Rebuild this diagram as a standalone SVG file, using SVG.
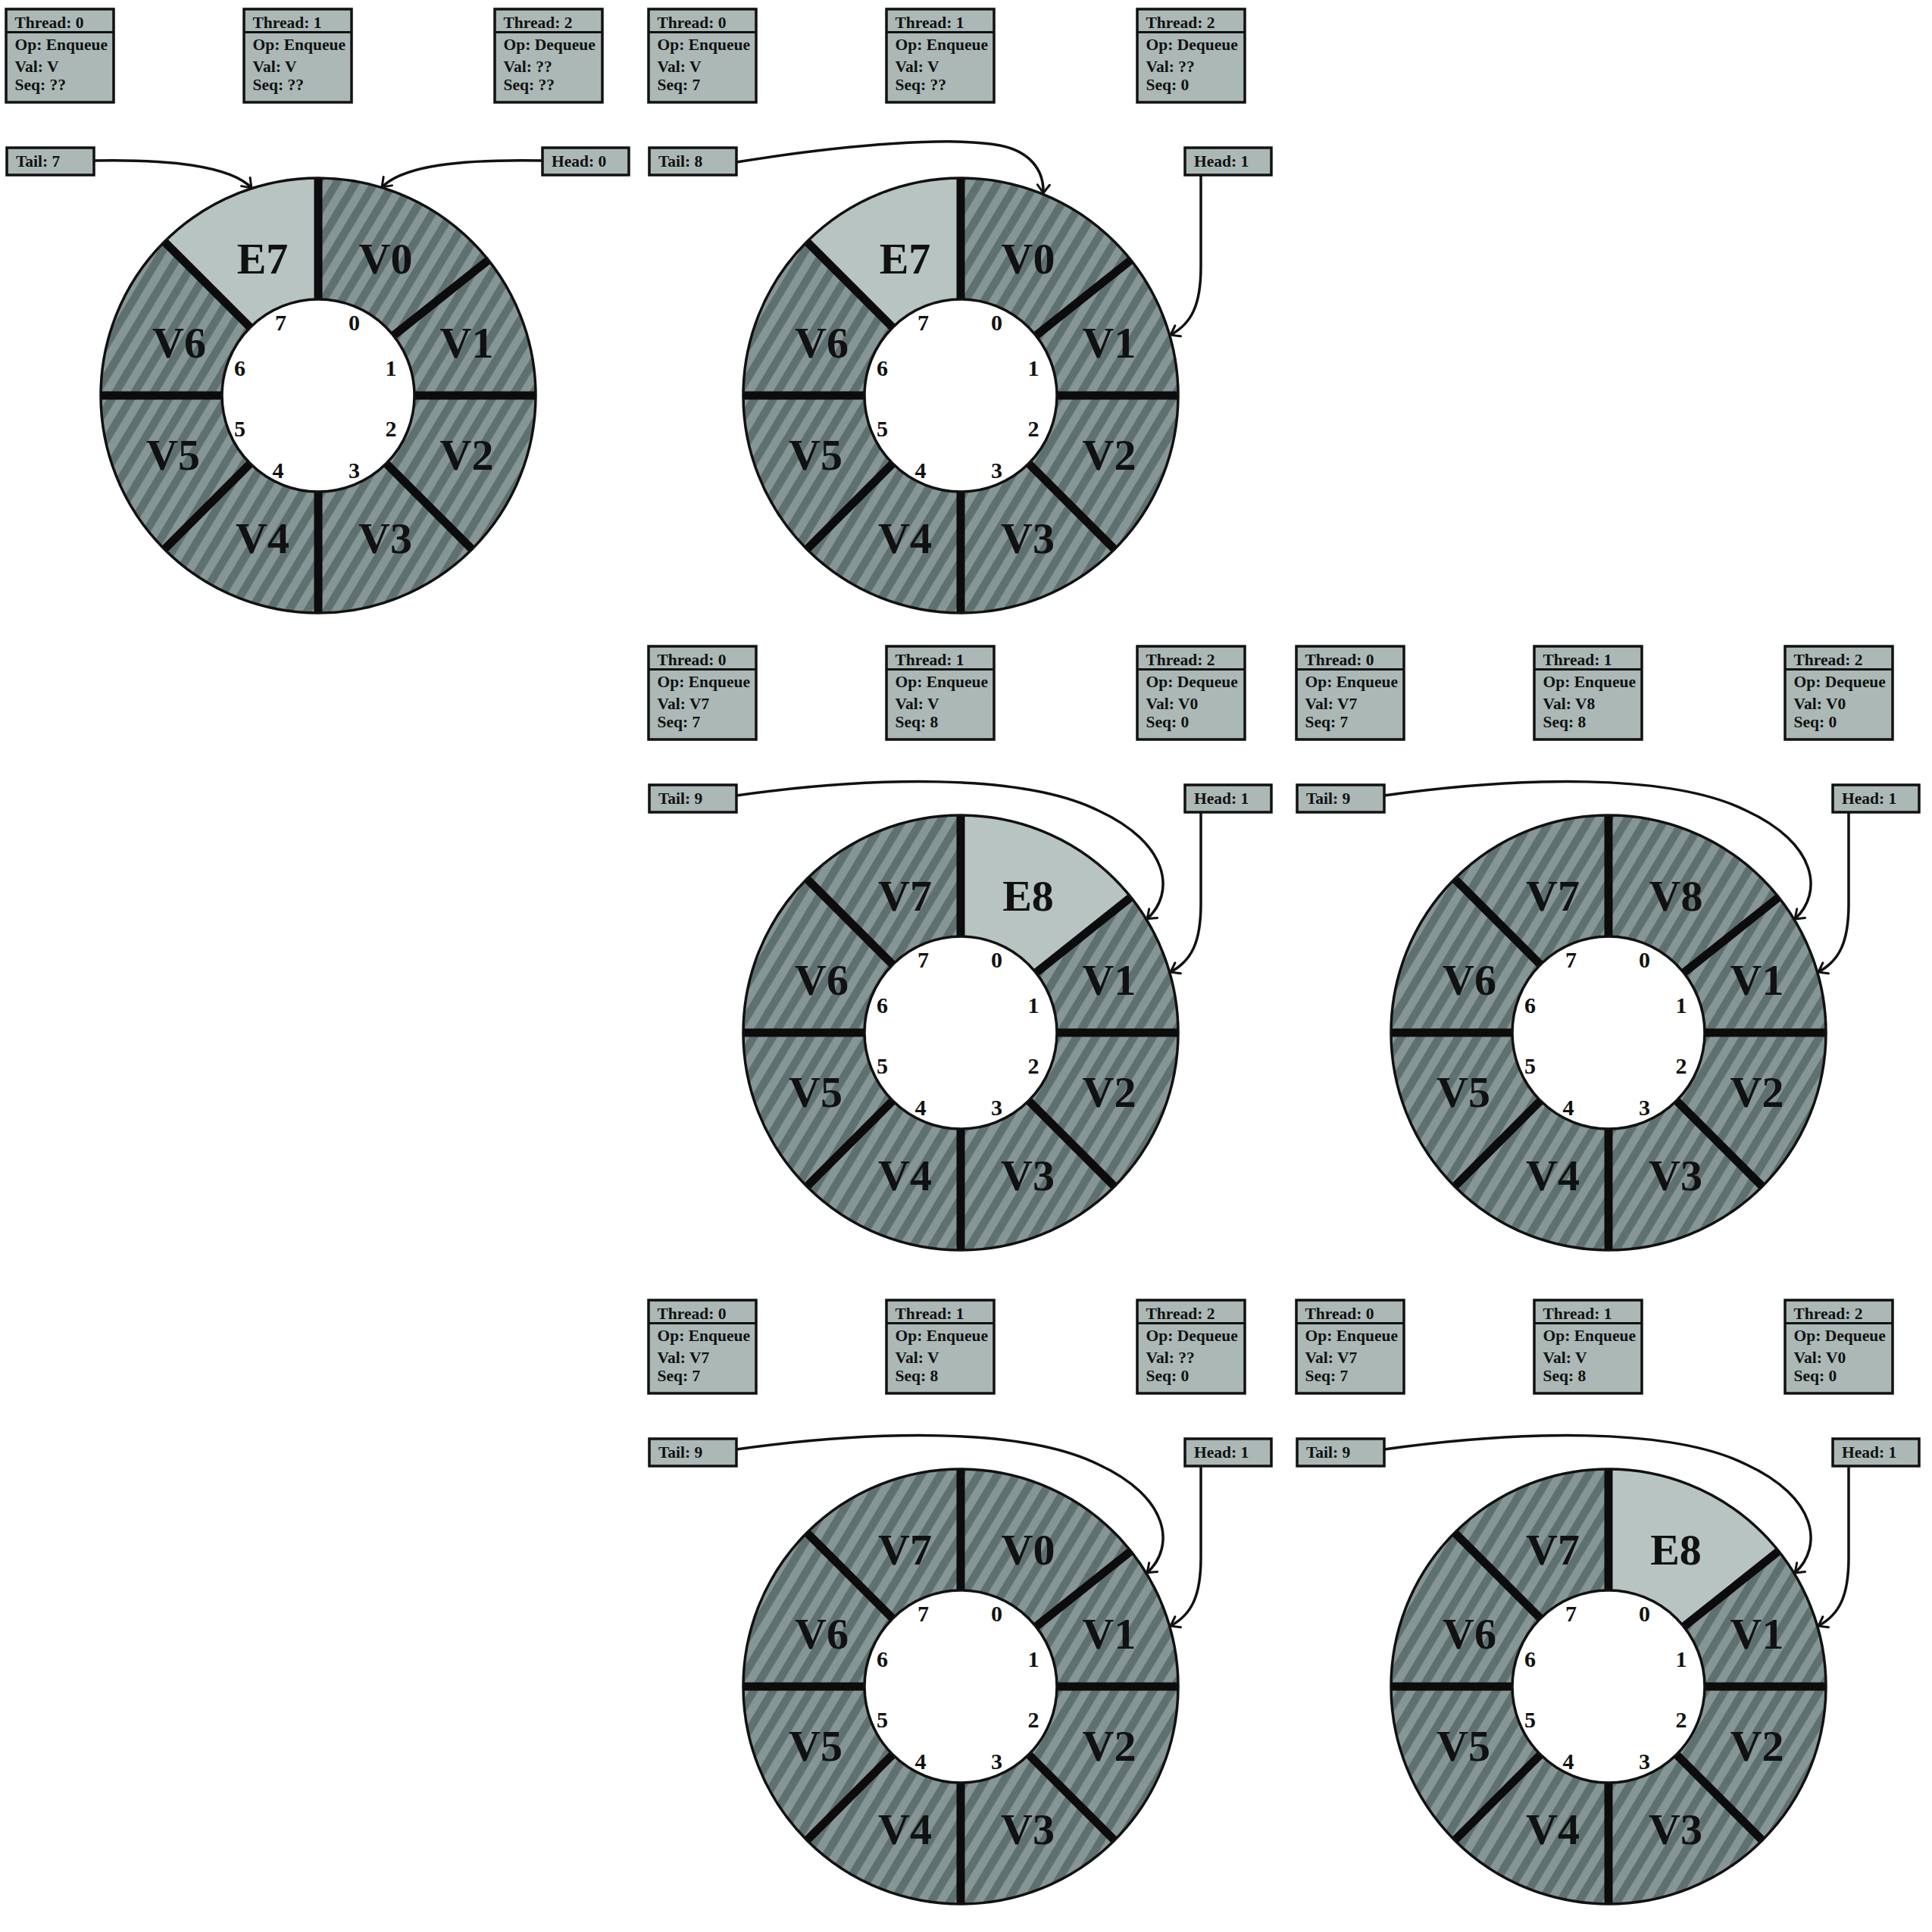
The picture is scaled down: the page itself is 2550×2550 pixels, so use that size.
<svg xmlns="http://www.w3.org/2000/svg" width="2550" height="2550" viewBox="0 0 2550 2550">
<style>
.box{fill:#abb8b6;stroke:#111;stroke-width:3.5}
.hdr{stroke:#111;stroke-width:3}
.t{font-family:"Liberation Serif","DejaVu Serif",serif;font-weight:bold;font-size:21.5px;fill:#111}
.lbl{font-family:"Liberation Serif","DejaVu Serif",serif;font-weight:bold;font-size:58px;text-anchor:middle;fill:#111}
.idx{font-family:"Liberation Serif","DejaVu Serif",serif;font-weight:bold;font-size:30px;text-anchor:middle;fill:#111}
.ring{fill:url(#stripes)}
.empty{fill:#b7c4c2}
.sep{fill:none;stroke:#0c0c0c;stroke-width:11}
.outer{fill:none;stroke:#111;stroke-width:3.5}
.inner{fill:#fff;stroke:#111;stroke-width:3.5}
.conn{fill:none;stroke:#111;stroke-width:3.5;marker-end:url(#arr)}
</style>
<defs>
<pattern id="stripes" patternUnits="userSpaceOnUse" width="21.5" height="21.5" patternTransform="rotate(31)">
<rect width="21.5" height="21.5" fill="#869595"/>
<rect width="10.5" height="21.5" fill="#5f7070"/>
</pattern>
<marker id="arr" viewBox="-15 -15 30 30" refX="0" refY="0" markerWidth="30" markerHeight="30" orient="auto" markerUnits="userSpaceOnUse">
<path d="M -11 -8 Q -3 -2 0 0 Q -3 2 -11 8" fill="none" stroke="#111" stroke-width="3" stroke-linecap="round"/>
</marker>
</defs>
<rect width="2550" height="2550" fill="#fff"/>

<!-- Panel 1 -->
<g id="panel1" transform="translate(420,522)">
<g id="p1-thread0"><rect class="box" x="-412" y="-510" width="142" height="123"/><line class="hdr" x1="-412" y1="-479.5" x2="-270" y2="-479.5"/><text class="t" x="-400.5" y="-485.5">Thread: 0</text><text class="t" x="-400.5" y="-456">Op: Enqueue</text><text class="t" x="-400.5" y="-427.5">Val: V</text><text class="t" x="-400.5" y="-403.5">Seq: ??</text></g>
<g id="p1-thread1"><rect class="box" x="-98" y="-510" width="142" height="123"/><line class="hdr" x1="-98" y1="-479.5" x2="44" y2="-479.5"/><text class="t" x="-86.5" y="-485.5">Thread: 1</text><text class="t" x="-86.5" y="-456">Op: Enqueue</text><text class="t" x="-86.5" y="-427.5">Val: V</text><text class="t" x="-86.5" y="-403.5">Seq: ??</text></g>
<g id="p1-thread2"><rect class="box" x="233" y="-510" width="142" height="123"/><line class="hdr" x1="233" y1="-479.5" x2="375" y2="-479.5"/><text class="t" x="244.5" y="-485.5">Thread: 2</text><text class="t" x="244.5" y="-456">Op: Dequeue</text><text class="t" x="244.5" y="-427.5">Val: ??</text><text class="t" x="244.5" y="-403.5">Seq: ??</text></g>
<g id="p1-tail"><rect class="box" x="-411" y="-327" width="115" height="36"/><text class="t" x="-399" y="-302">Tail: 7</text></g>
<g id="p1-head"><rect class="box" x="296" y="-327" width="114" height="36"/><text class="t" x="308" y="-302">Head: 0</text></g>
<g id="p1-ring">
<circle class="ring" r="287"/>
<path class="empty" d="M 0 -287 A 287 287 0 0 0 -202.9 -202.9 L 0 0 Z"/>
<path class="sep" d="M 0 -127 V -287 M 99.4 -79.1 L 224.6 -178.7 M 127 0 H 287 M 89.8 89.8 L 202.9 202.9 M 0 127 V 287 M -89.8 89.8 L -202.9 202.9 M -127 0 H -287 M -89.8 -89.8 L -202.9 -202.9"/>
<circle class="outer" r="287"/><circle class="inner" r="127"/>
<text class="lbl" x="89" y="-161.5">V0</text><text class="lbl" x="196" y="-50">V1</text><text class="lbl" x="196" y="97.5">V2</text><text class="lbl" x="88.5" y="207.5">V3</text><text class="lbl" x="-73.5" y="207.5">V4</text><text class="lbl" x="-191.5" y="97.5">V5</text><text class="lbl" x="-183.5" y="-50">V6</text><text class="lbl" x="-73.5" y="-161.5">E7</text>
<text class="idx" x="47.5" y="-86.5">0</text><text class="idx" x="96" y="-26">1</text><text class="idx" x="96" y="54">2</text><text class="idx" x="47.5" y="108.5">3</text><text class="idx" x="-53" y="108.5">4</text><text class="idx" x="-103.5" y="54">5</text><text class="idx" x="-103.5" y="-26">6</text><text class="idx" x="-49.5" y="-86.5">7</text>
</g>
<g id="p1-connectors"><path class="conn" d="M -296 -310 C -190 -312 -115 -302 -88 -274"/><path class="conn" d="M 296 -310 C 185 -312 112 -303 84 -275"/></g>
</g>

<!-- Panel 2 -->
<g id="panel2" transform="translate(1268,522)">
<g id="p2-thread0"><rect class="box" x="-412" y="-510" width="142" height="123"/><line class="hdr" x1="-412" y1="-479.5" x2="-270" y2="-479.5"/><text class="t" x="-400.5" y="-485.5">Thread: 0</text><text class="t" x="-400.5" y="-456">Op: Enqueue</text><text class="t" x="-400.5" y="-427.5">Val: V</text><text class="t" x="-400.5" y="-403.5">Seq: 7</text></g>
<g id="p2-thread1"><rect class="box" x="-98" y="-510" width="142" height="123"/><line class="hdr" x1="-98" y1="-479.5" x2="44" y2="-479.5"/><text class="t" x="-86.5" y="-485.5">Thread: 1</text><text class="t" x="-86.5" y="-456">Op: Enqueue</text><text class="t" x="-86.5" y="-427.5">Val: V</text><text class="t" x="-86.5" y="-403.5">Seq: ??</text></g>
<g id="p2-thread2"><rect class="box" x="233" y="-510" width="142" height="123"/><line class="hdr" x1="233" y1="-479.5" x2="375" y2="-479.5"/><text class="t" x="244.5" y="-485.5">Thread: 2</text><text class="t" x="244.5" y="-456">Op: Dequeue</text><text class="t" x="244.5" y="-427.5">Val: ??</text><text class="t" x="244.5" y="-403.5">Seq: 0</text></g>
<g id="p2-tail"><rect class="box" x="-411" y="-327" width="115" height="36"/><text class="t" x="-399" y="-302">Tail: 8</text></g>
<g id="p2-head"><rect class="box" x="296" y="-327" width="114" height="36"/><text class="t" x="308" y="-302">Head: 1</text></g>
<g id="p2-ring">
<circle class="ring" r="287"/>
<path class="empty" d="M 0 -287 A 287 287 0 0 0 -202.9 -202.9 L 0 0 Z"/>
<path class="sep" d="M 0 -127 V -287 M 99.4 -79.1 L 224.6 -178.7 M 127 0 H 287 M 89.8 89.8 L 202.9 202.9 M 0 127 V 287 M -89.8 89.8 L -202.9 202.9 M -127 0 H -287 M -89.8 -89.8 L -202.9 -202.9"/>
<circle class="outer" r="287"/><circle class="inner" r="127"/>
<text class="lbl" x="89" y="-161.5">V0</text><text class="lbl" x="196" y="-50">V1</text><text class="lbl" x="196" y="97.5">V2</text><text class="lbl" x="88.5" y="207.5">V3</text><text class="lbl" x="-73.5" y="207.5">V4</text><text class="lbl" x="-191.5" y="97.5">V5</text><text class="lbl" x="-183.5" y="-50">V6</text><text class="lbl" x="-73.5" y="-161.5">E7</text>
<text class="idx" x="47.5" y="-86.5">0</text><text class="idx" x="96" y="-26">1</text><text class="idx" x="96" y="54">2</text><text class="idx" x="47.5" y="108.5">3</text><text class="idx" x="-53" y="108.5">4</text><text class="idx" x="-103.5" y="54">5</text><text class="idx" x="-103.5" y="-26">6</text><text class="idx" x="-49.5" y="-86.5">7</text>
</g>
<g id="p2-connectors"><path class="conn" d="M -296 -308 C -148 -332 -8 -342 52 -330 C 92 -322 110 -297 109 -267"/><path class="conn" d="M 317 -291 L 317 -170 C 317 -120 305 -95 277 -80"/></g>
</g>

<!-- Panel 3 -->
<g id="panel3" transform="translate(1268,1363)">
<g id="p3-thread0"><rect class="box" x="-412" y="-510" width="142" height="123"/><line class="hdr" x1="-412" y1="-479.5" x2="-270" y2="-479.5"/><text class="t" x="-400.5" y="-485.5">Thread: 0</text><text class="t" x="-400.5" y="-456">Op: Enqueue</text><text class="t" x="-400.5" y="-427.5">Val: V7</text><text class="t" x="-400.5" y="-403.5">Seq: 7</text></g>
<g id="p3-thread1"><rect class="box" x="-98" y="-510" width="142" height="123"/><line class="hdr" x1="-98" y1="-479.5" x2="44" y2="-479.5"/><text class="t" x="-86.5" y="-485.5">Thread: 1</text><text class="t" x="-86.5" y="-456">Op: Enqueue</text><text class="t" x="-86.5" y="-427.5">Val: V</text><text class="t" x="-86.5" y="-403.5">Seq: 8</text></g>
<g id="p3-thread2"><rect class="box" x="233" y="-510" width="142" height="123"/><line class="hdr" x1="233" y1="-479.5" x2="375" y2="-479.5"/><text class="t" x="244.5" y="-485.5">Thread: 2</text><text class="t" x="244.5" y="-456">Op: Dequeue</text><text class="t" x="244.5" y="-427.5">Val: V0</text><text class="t" x="244.5" y="-403.5">Seq: 0</text></g>
<g id="p3-tail"><rect class="box" x="-411" y="-327" width="115" height="36"/><text class="t" x="-399" y="-302">Tail: 9</text></g>
<g id="p3-head"><rect class="box" x="296" y="-327" width="114" height="36"/><text class="t" x="308" y="-302">Head: 1</text></g>
<g id="p3-ring">
<circle class="ring" r="287"/>
<path class="empty" d="M 224.6 -178.7 A 287 287 0 0 0 0 -287 L 0 0 Z"/>
<path class="sep" d="M 0 -127 V -287 M 99.4 -79.1 L 224.6 -178.7 M 127 0 H 287 M 89.8 89.8 L 202.9 202.9 M 0 127 V 287 M -89.8 89.8 L -202.9 202.9 M -127 0 H -287 M -89.8 -89.8 L -202.9 -202.9"/>
<circle class="outer" r="287"/><circle class="inner" r="127"/>
<text class="lbl" x="89" y="-161.5">E8</text><text class="lbl" x="196" y="-50">V1</text><text class="lbl" x="196" y="97.5">V2</text><text class="lbl" x="88.5" y="207.5">V3</text><text class="lbl" x="-73.5" y="207.5">V4</text><text class="lbl" x="-191.5" y="97.5">V5</text><text class="lbl" x="-183.5" y="-50">V6</text><text class="lbl" x="-73.5" y="-161.5">V7</text>
<text class="idx" x="47.5" y="-86.5">0</text><text class="idx" x="96" y="-26">1</text><text class="idx" x="96" y="54">2</text><text class="idx" x="47.5" y="108.5">3</text><text class="idx" x="-53" y="108.5">4</text><text class="idx" x="-103.5" y="54">5</text><text class="idx" x="-103.5" y="-26">6</text><text class="idx" x="-49.5" y="-86.5">7</text>
</g>
<g id="p3-connectors"><path class="conn" d="M -296 -313 C -118 -338 82 -343 182 -293 C 275 -250 284 -185 246 -150"/><path class="conn" d="M 317 -291 L 317 -170 C 317 -120 305 -95 277 -80"/></g>
</g>

<!-- Panel 4 -->
<g id="panel4" transform="translate(2123,1363)">
<g id="p4-thread0"><rect class="box" x="-412" y="-510" width="142" height="123"/><line class="hdr" x1="-412" y1="-479.5" x2="-270" y2="-479.5"/><text class="t" x="-400.5" y="-485.5">Thread: 0</text><text class="t" x="-400.5" y="-456">Op: Enqueue</text><text class="t" x="-400.5" y="-427.5">Val: V7</text><text class="t" x="-400.5" y="-403.5">Seq: 7</text></g>
<g id="p4-thread1"><rect class="box" x="-98" y="-510" width="142" height="123"/><line class="hdr" x1="-98" y1="-479.5" x2="44" y2="-479.5"/><text class="t" x="-86.5" y="-485.5">Thread: 1</text><text class="t" x="-86.5" y="-456">Op: Enqueue</text><text class="t" x="-86.5" y="-427.5">Val: V8</text><text class="t" x="-86.5" y="-403.5">Seq: 8</text></g>
<g id="p4-thread2"><rect class="box" x="233" y="-510" width="142" height="123"/><line class="hdr" x1="233" y1="-479.5" x2="375" y2="-479.5"/><text class="t" x="244.5" y="-485.5">Thread: 2</text><text class="t" x="244.5" y="-456">Op: Dequeue</text><text class="t" x="244.5" y="-427.5">Val: V0</text><text class="t" x="244.5" y="-403.5">Seq: 0</text></g>
<g id="p4-tail"><rect class="box" x="-411" y="-327" width="115" height="36"/><text class="t" x="-399" y="-302">Tail: 9</text></g>
<g id="p4-head"><rect class="box" x="296" y="-327" width="114" height="36"/><text class="t" x="308" y="-302">Head: 1</text></g>
<g id="p4-ring">
<circle class="ring" r="287"/>
<path class="sep" d="M 0 -127 V -287 M 99.4 -79.1 L 224.6 -178.7 M 127 0 H 287 M 89.8 89.8 L 202.9 202.9 M 0 127 V 287 M -89.8 89.8 L -202.9 202.9 M -127 0 H -287 M -89.8 -89.8 L -202.9 -202.9"/>
<circle class="outer" r="287"/><circle class="inner" r="127"/>
<text class="lbl" x="89" y="-161.5">V8</text><text class="lbl" x="196" y="-50">V1</text><text class="lbl" x="196" y="97.5">V2</text><text class="lbl" x="88.5" y="207.5">V3</text><text class="lbl" x="-73.5" y="207.5">V4</text><text class="lbl" x="-191.5" y="97.5">V5</text><text class="lbl" x="-183.5" y="-50">V6</text><text class="lbl" x="-73.5" y="-161.5">V7</text>
<text class="idx" x="47.5" y="-86.5">0</text><text class="idx" x="96" y="-26">1</text><text class="idx" x="96" y="54">2</text><text class="idx" x="47.5" y="108.5">3</text><text class="idx" x="-53" y="108.5">4</text><text class="idx" x="-103.5" y="54">5</text><text class="idx" x="-103.5" y="-26">6</text><text class="idx" x="-49.5" y="-86.5">7</text>
</g>
<g id="p4-connectors"><path class="conn" d="M -296 -313 C -118 -338 82 -343 182 -293 C 275 -250 284 -185 246 -150"/><path class="conn" d="M 317 -291 L 317 -170 C 317 -120 305 -95 277 -80"/></g>
</g>

<!-- Panel 5 -->
<g id="panel5" transform="translate(1268,2226)">
<g id="p5-thread0"><rect class="box" x="-412" y="-510" width="142" height="123"/><line class="hdr" x1="-412" y1="-479.5" x2="-270" y2="-479.5"/><text class="t" x="-400.5" y="-485.5">Thread: 0</text><text class="t" x="-400.5" y="-456">Op: Enqueue</text><text class="t" x="-400.5" y="-427.5">Val: V7</text><text class="t" x="-400.5" y="-403.5">Seq: 7</text></g>
<g id="p5-thread1"><rect class="box" x="-98" y="-510" width="142" height="123"/><line class="hdr" x1="-98" y1="-479.5" x2="44" y2="-479.5"/><text class="t" x="-86.5" y="-485.5">Thread: 1</text><text class="t" x="-86.5" y="-456">Op: Enqueue</text><text class="t" x="-86.5" y="-427.5">Val: V</text><text class="t" x="-86.5" y="-403.5">Seq: 8</text></g>
<g id="p5-thread2"><rect class="box" x="233" y="-510" width="142" height="123"/><line class="hdr" x1="233" y1="-479.5" x2="375" y2="-479.5"/><text class="t" x="244.5" y="-485.5">Thread: 2</text><text class="t" x="244.5" y="-456">Op: Dequeue</text><text class="t" x="244.5" y="-427.5">Val: ??</text><text class="t" x="244.5" y="-403.5">Seq: 0</text></g>
<g id="p5-tail"><rect class="box" x="-411" y="-327" width="115" height="36"/><text class="t" x="-399" y="-302">Tail: 9</text></g>
<g id="p5-head"><rect class="box" x="296" y="-327" width="114" height="36"/><text class="t" x="308" y="-302">Head: 1</text></g>
<g id="p5-ring">
<circle class="ring" r="287"/>
<path class="sep" d="M 0 -127 V -287 M 99.4 -79.1 L 224.6 -178.7 M 127 0 H 287 M 89.8 89.8 L 202.9 202.9 M 0 127 V 287 M -89.8 89.8 L -202.9 202.9 M -127 0 H -287 M -89.8 -89.8 L -202.9 -202.9"/>
<circle class="outer" r="287"/><circle class="inner" r="127"/>
<text class="lbl" x="89" y="-161.5">V0</text><text class="lbl" x="196" y="-50">V1</text><text class="lbl" x="196" y="97.5">V2</text><text class="lbl" x="88.5" y="207.5">V3</text><text class="lbl" x="-73.5" y="207.5">V4</text><text class="lbl" x="-191.5" y="97.5">V5</text><text class="lbl" x="-183.5" y="-50">V6</text><text class="lbl" x="-73.5" y="-161.5">V7</text>
<text class="idx" x="47.5" y="-86.5">0</text><text class="idx" x="96" y="-26">1</text><text class="idx" x="96" y="54">2</text><text class="idx" x="47.5" y="108.5">3</text><text class="idx" x="-53" y="108.5">4</text><text class="idx" x="-103.5" y="54">5</text><text class="idx" x="-103.5" y="-26">6</text><text class="idx" x="-49.5" y="-86.5">7</text>
</g>
<g id="p5-connectors"><path class="conn" d="M -296 -313 C -118 -338 82 -343 182 -293 C 275 -250 284 -185 246 -150"/><path class="conn" d="M 317 -291 L 317 -170 C 317 -120 305 -95 277 -80"/></g>
</g>

<!-- Panel 6 -->
<g id="panel6" transform="translate(2123,2226)">
<g id="p6-thread0"><rect class="box" x="-412" y="-510" width="142" height="123"/><line class="hdr" x1="-412" y1="-479.5" x2="-270" y2="-479.5"/><text class="t" x="-400.5" y="-485.5">Thread: 0</text><text class="t" x="-400.5" y="-456">Op: Enqueue</text><text class="t" x="-400.5" y="-427.5">Val: V7</text><text class="t" x="-400.5" y="-403.5">Seq: 7</text></g>
<g id="p6-thread1"><rect class="box" x="-98" y="-510" width="142" height="123"/><line class="hdr" x1="-98" y1="-479.5" x2="44" y2="-479.5"/><text class="t" x="-86.5" y="-485.5">Thread: 1</text><text class="t" x="-86.5" y="-456">Op: Enqueue</text><text class="t" x="-86.5" y="-427.5">Val: V</text><text class="t" x="-86.5" y="-403.5">Seq: 8</text></g>
<g id="p6-thread2"><rect class="box" x="233" y="-510" width="142" height="123"/><line class="hdr" x1="233" y1="-479.5" x2="375" y2="-479.5"/><text class="t" x="244.5" y="-485.5">Thread: 2</text><text class="t" x="244.5" y="-456">Op: Dequeue</text><text class="t" x="244.5" y="-427.5">Val: V0</text><text class="t" x="244.5" y="-403.5">Seq: 0</text></g>
<g id="p6-tail"><rect class="box" x="-411" y="-327" width="115" height="36"/><text class="t" x="-399" y="-302">Tail: 9</text></g>
<g id="p6-head"><rect class="box" x="296" y="-327" width="114" height="36"/><text class="t" x="308" y="-302">Head: 1</text></g>
<g id="p6-ring">
<circle class="ring" r="287"/>
<path class="empty" d="M 224.6 -178.7 A 287 287 0 0 0 0 -287 L 0 0 Z"/>
<path class="sep" d="M 0 -127 V -287 M 99.4 -79.1 L 224.6 -178.7 M 127 0 H 287 M 89.8 89.8 L 202.9 202.9 M 0 127 V 287 M -89.8 89.8 L -202.9 202.9 M -127 0 H -287 M -89.8 -89.8 L -202.9 -202.9"/>
<circle class="outer" r="287"/><circle class="inner" r="127"/>
<text class="lbl" x="89" y="-161.5">E8</text><text class="lbl" x="196" y="-50">V1</text><text class="lbl" x="196" y="97.5">V2</text><text class="lbl" x="88.5" y="207.5">V3</text><text class="lbl" x="-73.5" y="207.5">V4</text><text class="lbl" x="-191.5" y="97.5">V5</text><text class="lbl" x="-183.5" y="-50">V6</text><text class="lbl" x="-73.5" y="-161.5">V7</text>
<text class="idx" x="47.5" y="-86.5">0</text><text class="idx" x="96" y="-26">1</text><text class="idx" x="96" y="54">2</text><text class="idx" x="47.5" y="108.5">3</text><text class="idx" x="-53" y="108.5">4</text><text class="idx" x="-103.5" y="54">5</text><text class="idx" x="-103.5" y="-26">6</text><text class="idx" x="-49.5" y="-86.5">7</text>
</g>
<g id="p6-connectors"><path class="conn" d="M -296 -313 C -118 -338 82 -343 182 -293 C 275 -250 284 -185 246 -150"/><path class="conn" d="M 317 -291 L 317 -170 C 317 -120 305 -95 277 -80"/></g>
</g>
</svg>
